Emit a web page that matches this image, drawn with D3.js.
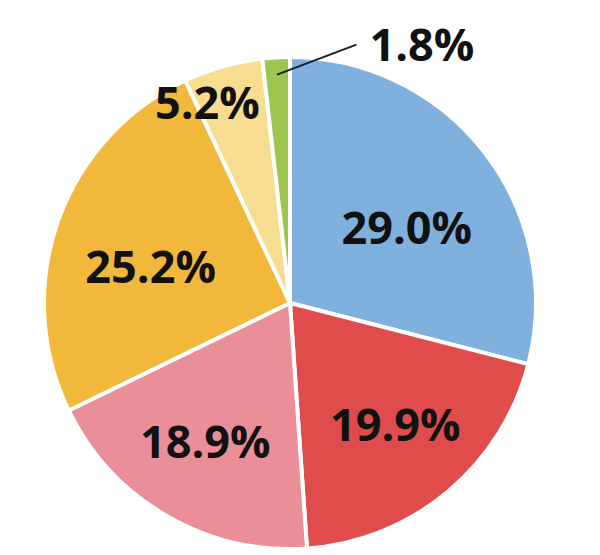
<!DOCTYPE html>
<html>
<head>
<meta charset="utf-8">
<script src="https://cdn.jsdelivr.net/npm/d3@7"></script>
<style>
  body { margin: 0; background: #fff; }
</style>
</head>
<body>
<svg width="600" height="555"></svg>
<script>
// data
const labels = ['29.0%', '19.9%', '18.9%', '25.2%', '5.2%', '1.8%'];
const values = [29.0, 19.9, 18.9, 25.2, 5.2, 1.8];
const colors = ['#80B0DE', '#E04C4C', '#EA8E98', '#F2B83B', '#F8DD90', '#9DC64E'];

const svg = d3.select('svg');
const cx = 290, cy = 303, radius = 246;

const g = svg.append('g').attr('transform', `translate(${cx},${cy})`);

const pie = d3.pie().sort(null).value((d) => d);
const arcs = pie(values);

const arc = d3.arc().innerRadius(0).outerRadius(radius);

// slices
g.selectAll('path.slice')
    .data(arcs)
    .enter()
    .append('path')
    .attr('class', 'slice')
    .attr('d', arc)
    .attr('fill', (d, i) => colors[i])
    .attr('stroke', '#fff')
    .attr('stroke-width', 4)
    .attr('stroke-linejoin', 'round');

// label placement: radius fraction and angle nudge (deg) per slice
const labelR = [0.565, 0.655, 0.66, 0.585, 0.88];
const labelNudge = [5, -1, 1.4, -5, -6.6];
const labelXY = (d, i) => {
    const a = (d.startAngle + d.endAngle) / 2 + labelNudge[i] * Math.PI / 180;
    const r = radius * labelR[i];
    return [r * Math.sin(a), -r * Math.cos(a)];
};

g.selectAll('text.lbl')
    .data(arcs.slice(0, 5))
    .enter()
    .append('text')
    .attr('class', 'lbl')
    .attr('transform', (d, i) => `translate(${labelXY(d, i)})`)
    .attr('text-anchor', 'middle')
    .attr('dy', '0.36em')
    .style('font-family', '"Open Sans", sans-serif')
    .style('font-weight', 'bold')
    .style('font-size', '45px')
    .attr('fill', '#111')
    .text((d, i) => labels[i]);

// small slice: leader line + outside label
const small = arcs[5];
const inner = d3.arc().innerRadius(radius * 0.93).outerRadius(radius * 0.93).centroid(small);
const elbow = [radius * 0.27, -radius * 1.05];
g.append('line')
    .attr('x1', inner[0]).attr('y1', inner[1])
    .attr('x2', elbow[0]).attr('y2', elbow[1])
    .attr('stroke', '#1a1a2a')
    .attr('stroke-width', 1.8);

g.append('text')
    .attr('x', elbow[0] + 13)
    .attr('y', elbow[1])
    .attr('dy', '0.36em')
    .style('font-family', '"Open Sans", sans-serif')
    .style('font-weight', 'bold')
    .style('font-size', '45px')
    .attr('fill', '#111')
    .text(labels[5]);
</script>
</body>
</html>
